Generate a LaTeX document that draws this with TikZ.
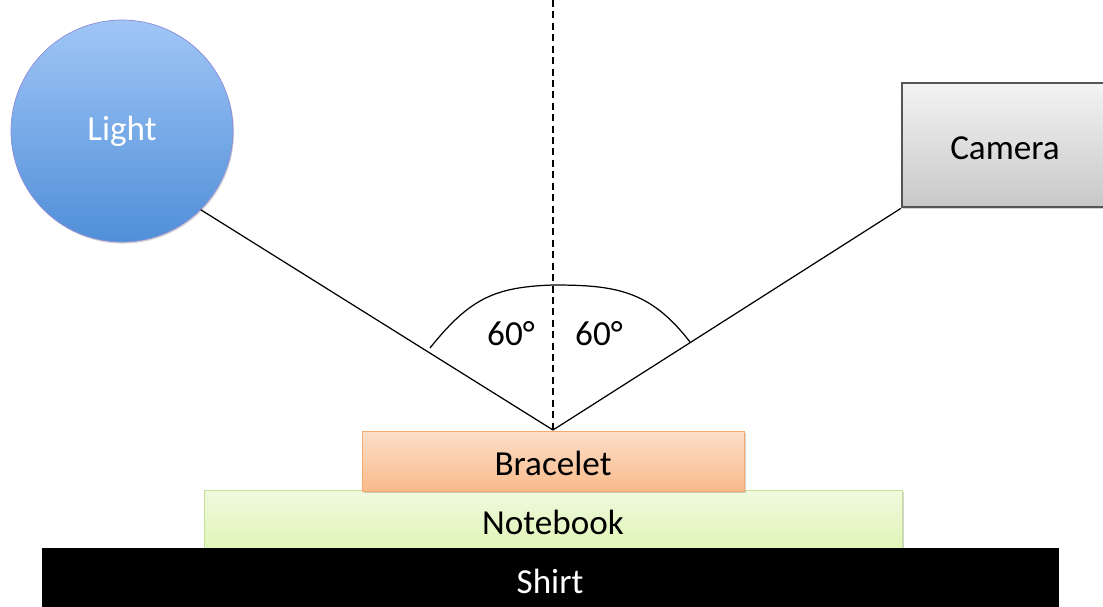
\documentclass[tikz,border=0pt]{standalone}
\usepackage{fontspec}
\setmainfont{Carlito}
\usetikzlibrary{shadows}
\begin{document}
\begin{tikzpicture}[x=0.02cm,y=-0.02cm,
  lbl/.style={font=\fontsize{20}{24}\selectfont},
  ray/.style={line width=0.7pt, black},
  layer/.style={rectangle, anchor=north west, inner sep=0pt, line width=0.8pt},
  soft/.style={drop shadow={shadow xshift=0.6pt, shadow yshift=-0.9pt, opacity=0.35}}]
  \useasboundingbox (0,0) rectangle (1103,606);

  % light source
  \node[circle, minimum size=222*0.02cm, inner sep=0pt, draw=blue!50!gray!60, line width=0.4pt,
        top color={rgb,255:red,160;green,198;blue,246}, bottom color={rgb,255:red,80;green,143;blue,216},
        soft, text=white, lbl] (light) at (122,131) {Light};

  % camera
  \node[layer, minimum width=210*0.02cm, minimum height=124*0.02cm,
        draw={rgb,255:red,85;green,85;blue,85}, line width=1.3pt,
        top color={rgb,255:red,243;green,243;blue,243}, bottom color={rgb,255:red,200;green,200;blue,200},
        soft] (camera) at (901,82) {};
  \node[lbl] (camlabel) at (1005,148) {Camera};

  % stacked layers
  \node[layer, minimum width=698*0.02cm, minimum height=66*0.02cm,
        draw={rgb,255:red,196;green,226;blue,150},
        top color={rgb,255:red,240;green,249;blue,222}, bottom color={rgb,255:red,222;green,245;blue,178},
        soft] (notebook) at (204,490) {};
  \node[lbl] (notelabel) at (553,522) {Notebook};

  \node[layer, minimum width=382*0.02cm, minimum height=60*0.02cm,
        draw={rgb,255:red,245;green,170;blue,110},
        top color={rgb,255:red,252;green,222;blue,200}, bottom color={rgb,255:red,249;green,186;blue,138},
        soft] (bracelet) at (362,431) {};
  \node[lbl] (braclabel) at (553,463) {Bracelet};

  \node[layer, minimum width=1016*0.02cm, minimum height=60*0.02cm, fill=black, draw=black]
        (shirt) at (42,548) {};
  \node[lbl, text=white] (shirtlabel) at (550,581) {Shirt};

  % reflection geometry
  \coordinate (apex) at (553,430);
  \coordinate (top) at (553,0);
  \coordinate (lfoot) at (203,207);
  \coordinate (cfoot) at (901,206);
  \draw[ray, dashed, dash pattern=on 4pt off 2.5pt] (top) -- (apex);
  \draw[ray] (light.-45) -- (apex);
  \draw[ray] (camera.south west) -- (apex);

  % angle arc
  \coordinate (al) at (430,348);
  \coordinate (ar) at (690,342);
  \draw[ray] (al) .. controls (470,298) and (495,287) .. (553,285)
             .. controls (615,285) and (650,290) .. (ar);
  \node[lbl] (angl) at (511,334) {60°};
  \node[lbl] (angr) at (599,334) {60°};
\end{tikzpicture}
\end{document}
